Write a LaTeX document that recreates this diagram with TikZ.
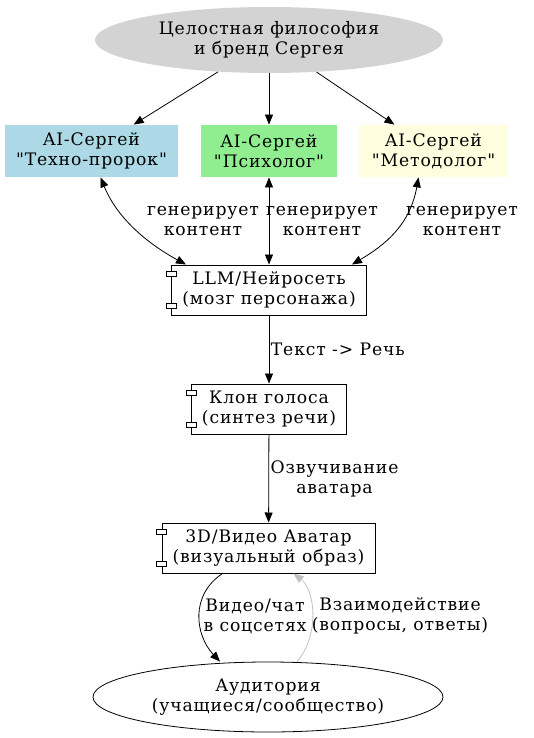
\documentclass[tikz,border=0pt]{standalone}
\usepackage{fontspec}
\newfontfamily\dvserif{DejaVu Serif}[LetterSpace=5]
\usetikzlibrary{shapes.geometric, arrows.meta}
\definecolor{brandgray}{RGB}{211,211,211}
\definecolor{techblue}{RGB}{173,216,230}
\definecolor{psygreen}{RGB}{144,238,144}
\definecolor{methyellow}{RGB}{255,255,224}
\definecolor{backgray}{RGB}{192,192,192}

\begin{document}
\begin{tikzpicture}[x=1pt, y=1pt, line width=0.8pt, >={Triangle[length=10pt,width=8pt]},
  every node/.style={font=\dvserif\fontsize{17.2}{20}\selectfont, align=center, inner sep=0pt},
  role/.style={rectangle, minimum height=52pt},
  comp/.style={rectangle, draw, line width=1pt, minimum height=50pt},
  lbl/.style={align=center}]
  \useasboundingbox (0,0) rectangle (533,-738);
  % top level
  \node[ellipse, fill=brandgray, minimum width=348pt, minimum height=66pt] (brand) at (269,-40)
    {Целостная философия\\и бренд Сергея};
  % three personas
  \node[role, fill=techblue, minimum width=173pt] (techno) at (91.5,-151) {AI-Сергей\\\char34Техно-пророк\char34};
  \node[role, fill=psygreen, minimum width=136pt] (psycho) at (269,-151) {AI-Сергей\\\char34Психолог\char34};
  \node[role, fill=methyellow, minimum width=149pt] (method) at (433.5,-151) {AI-Сергей\\\char34Методолог\char34};
  % pipeline components
  \node[comp, minimum width=195pt] (llm) at (269,-290) {LLM/Нейросеть\\(мозг персонажа)};
  \node[comp, minimum width=155pt] (voice) at (269,-409) {Клон голоса\\(синтез речи)};
  \node[comp, minimum width=213pt] (avatar) at (268.5,-548) {3D/Видео Аватар\\(визуальный образ)};
  \node[ellipse, draw, minimum width=350pt, minimum height=70pt] (audience) at (268,-697)
    {Аудитория\\(учащиеся/сообщество)};
  % component tabs
  \foreach \c in {llm, voice, avatar} {
    \draw[fill=white, line width=0.7pt] ([xshift=-5pt,yshift=-7pt]\c.north west) rectangle ++(10pt,-5pt);
    \draw[fill=white, line width=0.7pt] ([xshift=-5pt,yshift=7pt]\c.south west) rectangle ++(10pt,5pt);
  }
  % edges
  \draw[->] (brand) -- (techno);
  \draw[->] (brand) -- (psycho);
  \draw[->] (brand) -- (method);
  \draw[<->] ([xshift=9pt]techno.south) .. controls (118,-220) and (150,-245) .. ([xshift=15pt]llm.north west);
  \draw[<->] (psycho.south) -- (llm.north);
  \draw[<->] ([xshift=-15pt]method.south) .. controls (410,-225) and (385,-245) .. ([xshift=-15pt]llm.north east);
  \node[lbl] (gen1) at (203,-221) {генерирует\\контент};
  \node[lbl] (gen2) at (322,-221) {генерирует\\контент};
  \node[lbl] (gen3) at (462,-221) {генерирует\\контент};
  \draw[->] (llm) -- (voice) node[pos=0.5, right=1.5pt, lbl] (tts) {Текст -> Речь};
  \draw[->] (voice) -- (avatar) node[pos=0.5, right=1.5pt, lbl] (voiceover) {Озвучивание\\аватара};
  \draw[->] ([xshift=-46pt]avatar.south) .. controls (190,-595) and (195,-635) .. ([xshift=-48pt]audience.north);
  \draw[->, backgray] ([xshift=29pt]audience.north) .. controls (320,-635) and (315,-590) .. ([xshift=25pt]avatar.south);
  \node[lbl] (video) at (255,-616) {Видео/чат\\в соцсетях};
  \node[lbl] (interact) at (400,-616) {Взаимодействие\\(вопросы, ответы)};
\end{tikzpicture}
\end{document}
